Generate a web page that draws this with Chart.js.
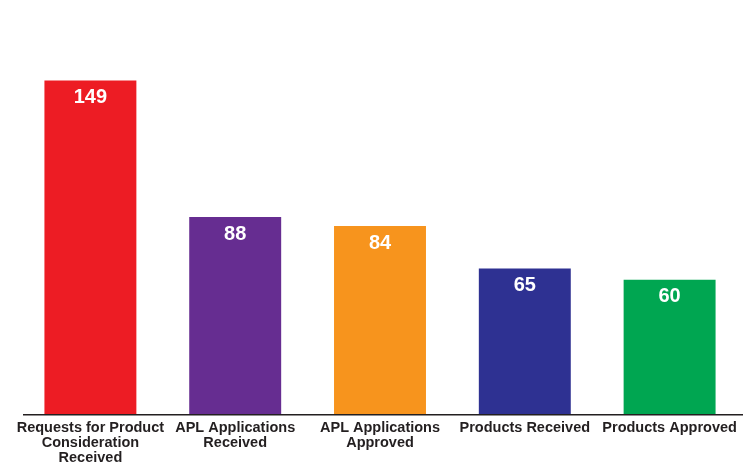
<!DOCTYPE html>
<html>
<head>
<meta charset="utf-8">
<script src="https://cdn.jsdelivr.net/npm/chart.js@4/dist/chart.umd.min.js"></script>
<style>
  html, body { margin: 0; padding: 0; background: #fff; }
  #wrap { width: 743px; height: 466px; position: relative; }
</style>
</head>
<body>
<div id="wrap"><canvas id="funnel"></canvas></div>
<script>
// categories, values and colours
var categories = [
  ["Requests for Product", "Consideration", "Received"],
  ["APL Applications", "Received"],
  ["APL Applications", "Approved"],
  "Products Received",
  "Products Approved"
];
var counts = [149, 88, 84, 65, 60];
var barColors = ["#ED1C24", "#662D91", "#F7941D", "#2E3192", "#00A651"];

// white value printed inside the top of each bar
var valueLabels = {
  id: "valueLabels",
  afterDatasetsDraw: function(chart) {
    var ctx = chart.ctx;
    var meta = chart.getDatasetMeta(0);
    ctx.save();
    ctx.fillStyle = "#ffffff";
    ctx.font = "bold 20px 'Liberation Sans', Arial, sans-serif";
    ctx.textAlign = "center";
    ctx.textBaseline = "alphabetic";
    meta.data.forEach(function(bar, i) {
      ctx.fillText(counts[i], bar.x, bar.y + 22.5);
    });
    ctx.restore();
  }
};

// baseline rule under the bars
var baseLine = {
  id: "baseLine",
  afterDatasetsDraw: function(chart) {
    var ctx = chart.ctx;
    var y = chart.scales.y.getPixelForValue(0);
    ctx.save();
    ctx.strokeStyle = "#231F20";
    ctx.lineWidth = 1.5;
    ctx.beginPath();
    ctx.moveTo(23, y + 0.75);
    ctx.lineTo(chart.chartArea.right + 1, y + 0.75);
    ctx.stroke();
    ctx.restore();
  }
};

var chart = new Chart(document.getElementById("funnel"), {
  type: "bar",
  data: {
    labels: categories,
    datasets: [{
      label: "Count",
      data: counts,
      backgroundColor: barColors,
      borderWidth: 0,
      barPercentage: 0.635,
      categoryPercentage: 1
    }]
  },
  options: {
    responsive: true,
    maintainAspectRatio: false,
    animation: false,
    layout: {
      padding: { top: 56, left: 18, right: 1, bottom: 0 }
    },
    plugins: {
      legend: { display: false },
      tooltip: { enabled: false }
    },
    scales: {
      x: {
        grid: { display: false, drawTicks: false },
        border: { display: false },
        afterFit: function(scale) { scale.height = 52; },
        ticks: {
          color: "#231F20",
          padding: 6,
          maxRotation: 0,
          autoSkip: false,
          font: { family: "'Liberation Sans', Arial, sans-serif", size: 14.5, weight: "bold", lineHeight: 1.04 }
        }
      },
      y: {
        display: false,
        min: 0,
        max: 160
      }
    }
  },
  plugins: [valueLabels, baseLine]
});
</script>
</body>
</html>
